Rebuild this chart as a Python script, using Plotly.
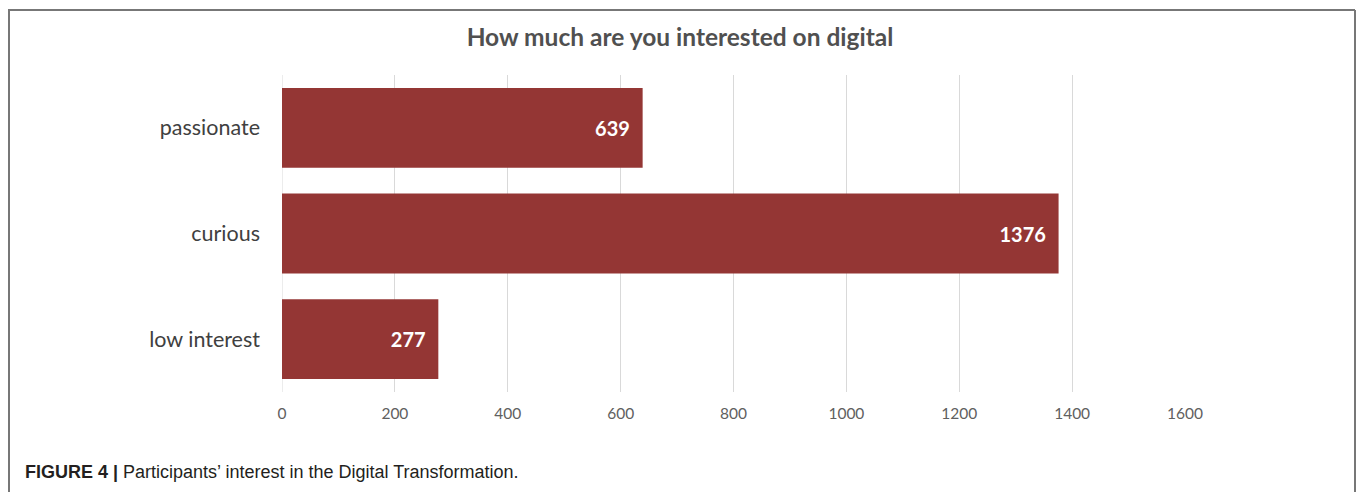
import plotly.graph_objects as go

categories = ["low interest", "curious", "passionate"]
values = [277, 1376, 639]
x_ticks = [0, 200, 400, 600, 800, 1000, 1200, 1400, 1600]

W, H = 1360, 492
L, R, T, B = 282, 175, 75, 100
pw, ph = W - L - R, H - T - B

def px_x(p):
    return (p - L) / pw

def px_y(p):
    return (H - B - p) / ph

fig = go.Figure(go.Bar(
    y=categories, x=values, orientation="h",
    marker=dict(color="#943634", line=dict(width=0)),
    text=[str(v) + "\u00a0\u00a0" for v in values], textposition="inside", insidetextanchor="end",
    textfont=dict(family="Lato", size=20, color="white", weight="bold"),
    cliponaxis=False,
))

fig.update_layout(
    width=W, height=H,
    margin=dict(l=L, r=R, t=T, b=B),
    paper_bgcolor="white", plot_bgcolor="white",
    bargap=0.245,
    showlegend=False,
    title=dict(text="How much are you interested on digital", x=680 / W, xref="container",
               xanchor="center", y=1 - 37 / H, yanchor="middle",
               font=dict(family="Lato", size=24.5, color="#505050", weight="bold")),
    xaxis=dict(range=[0, 1600], tickvals=x_ticks, showgrid=True, gridcolor="#d9d9d9",
               gridwidth=1, zeroline=False, showline=False, ticks="",
               tickfont=dict(family="Lato", size=15.5, color="#606060"), ticklabelstandoff=10),
    yaxis=dict(showgrid=False, zeroline=False, showline=False, ticks="",
               tickfont=dict(family="Lato", size=21.5, color="#404040"), ticklabelstandoff=21),
    font=dict(family="Lato"),
)

fig.add_shape(type="line", xref="x", yref="paper", x0=0, x1=0, y0=0, y1=1,
              line=dict(color="#d9d9d9", width=1), layer="below")

frame = dict(color="#777777", width=2)
fig.add_shape(type="line", xref="paper", yref="paper", x0=px_x(8), x1=px_x(1355),
              y0=px_y(10), y1=px_y(10), line=frame)
fig.add_shape(type="line", xref="paper", yref="paper", x0=px_x(9), x1=px_x(9),
              y0=px_y(10), y1=px_y(495), line=frame)
fig.add_shape(type="line", xref="paper", yref="paper", x0=px_x(1355), x1=px_x(1355),
              y0=px_y(10), y1=px_y(495), line=frame)

fig.add_annotation(xref="paper", yref="paper", x=px_x(23), y=px_y(472),
                   xanchor="left", yanchor="middle", showarrow=False,
                   text="<b>FIGURE 4 |</b> Participants’ interest in the Digital Transformation.",
                   font=dict(family="Liberation Sans", size=18, color="#231f20"))

fig.write_html("out.html")
